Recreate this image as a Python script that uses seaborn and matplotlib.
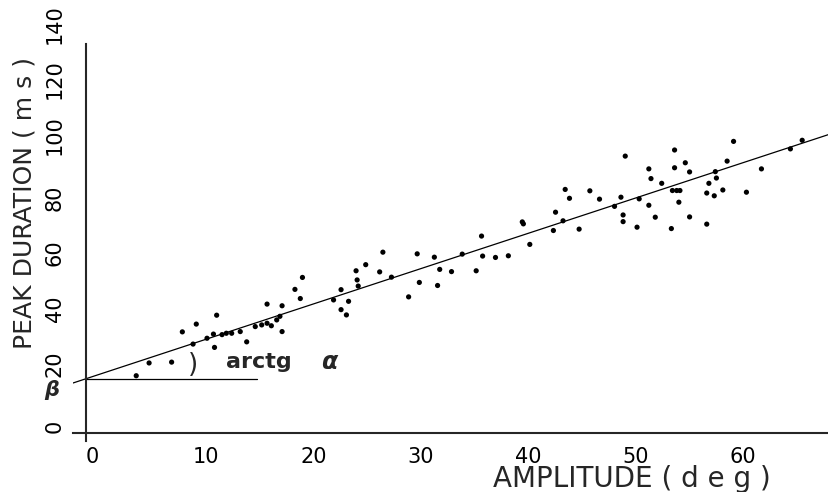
import numpy as np
import pandas as pd
import matplotlib
matplotlib.use("Agg")
import matplotlib.pyplot as plt
import seaborn as sns

# ==============================
# DATA
# ==============================
amplitude = [4.7, 5.9, 8.0, 9.0, 10.3, 12.2, 12.0, 10.0, 11.3, 11.9,
             12.7, 13.1, 13.6, 14.4, 15.0, 15.8, 16.4, 16.9, 17.3, 17.8,
             18.1, 18.3, 16.9, 18.3, 19.5, 20.2, 20.0, 23.1, 23.8, 23.8,
             24.3, 24.5, 25.2, 25.3, 25.4, 26.1, 27.4, 27.7, 28.5, 30.1,
             30.9, 31.1, 32.5, 32.8, 33.0, 34.1, 35.1, 36.4, 36.9, 37.0,
             38.2, 39.4, 40.7, 40.8, 41.4, 43.6, 43.8, 44.5, 44.7, 45.1,
             46.0, 47.0, 47.9, 49.3, 49.9, 50.1, 50.1, 50.3, 51.4, 51.6,
             52.5, 52.5, 52.7, 53.1, 53.7, 54.6, 54.9, 54.9, 54.7, 55.1,
             55.4, 55.3, 55.9, 56.3, 56.3, 57.9, 57.9, 58.1, 58.6, 58.8,
             58.7, 59.4, 59.8, 60.4, 61.6, 63.0, 65.7, 66.8]
peak_duration = [20.5, 25.1, 25.4, 36.3, 39.1, 42.3, 30.7, 31.9, 34.0, 35.5,
                 35.3, 35.8, 35.8, 36.4, 32.7, 38.2, 38.8, 39.4, 38.5, 40.6,
                 41.9, 36.4, 46.3, 45.7, 51.6, 55.9, 48.3, 47.8, 51.5, 44.3,
                 42.4, 47.3, 58.3, 55.0, 52.8, 60.5, 57.9, 65.0, 56.0, 48.9,
                 64.4, 54.1, 63.2, 53.0, 58.8, 58.0, 64.3, 58.3, 70.8, 63.6,
                 63.1, 63.7, 75.9, 75.2, 67.8, 72.8, 79.4, 76.3, 87.6, 84.4,
                 73.3, 87.1, 84.1, 81.5, 84.8, 78.4, 76.0, 99.6, 74.0, 84.2,
                 95.0, 81.9, 91.5, 77.6, 89.8, 73.5, 101.8, 95.4, 87.2, 87.2,
                 87.2, 83.0, 97.2, 93.9, 77.7, 75.1, 86.3, 89.8, 85.3, 91.7,
                 94.0, 87.4, 97.8, 104.9, 86.6, 95.0, 102.2, 105.3]

beta = 19.4      # intercept (ms)
alpha = 1.27     # slope (ms/deg)
x_ticks = [0, 10, 20, 30, 40, 50, 60]
y_ticks = [0, 20, 40, 60, 80, 100, 120, 140]

df = pd.DataFrame({"amp": amplitude, "dur": peak_duration})

# ==============================
# STYLE
# ==============================
sns.set_style("white")
plt.rcParams["font.family"] = ["DejaVu Sans"]

fig = plt.figure(figsize=(8.29, 4.92), dpi=100)
ax = fig.add_axes([0.088, 0.1037, 0.912, 0.807])

sns.scatterplot(data=df, x="amp", y="dur", ax=ax, color="black",
                s=14, edgecolor="none", legend=False)

# regression line and beta reference line
ax.axline((0, beta), slope=alpha, color="black", lw=0.9)
ax.plot([0, 16], [beta, beta], color="black", lw=0.9)

ax.set_xlim(-1.2, 69.3)
ax.set_ylim(-3, 140)

for side in ["top", "right"]:
    ax.spines[side].set_visible(False)
ax.spines["left"].set_position(("data", 0))
ax.spines["bottom"].set_position(("data", 0))
ax.spines["left"].set_linewidth(1.5)
ax.spines["bottom"].set_linewidth(1.5)
ax.spines["left"].set_bounds(-3, 140)

ax.set_xticks(x_ticks)
ax.set_yticks(y_ticks)
ax.tick_params(axis="both", direction="out", length=5, width=1.3,
               labelsize=15, colors="black")
ax.tick_params(axis="y", labelrotation=90, pad=10)
ax.tick_params(axis="x", pad=5)
for lab in ax.get_yticklabels():
    lab.set_va("bottom")
for lab in ax.get_xticklabels():
    lab.set_ha("left")

ax.set_xlabel("AMPLITUDE ( d e g )", fontsize=20)
ax.set_ylabel("PEAK DURATION ( m s )", fontsize=18)
ax.xaxis.set_label_coords(0.739, -0.06)
ax.yaxis.set_label_coords(-0.048, 0.6)

# annotations
ax.text(10.0, 24.5, ")", fontsize=19, ha="center", va="center")
ax.text(13.1, 25.5, "arctg", fontsize=16, fontweight="bold",
        ha="left", va="center")
ax.text(21.9, 25.5, "α", fontsize=17, fontweight="bold",
        fontstyle="italic", ha="left", va="center")
ax.text(-3.2, 15.5, "β", fontsize=15, fontweight="bold", fontstyle="italic",
        ha="center", va="center", clip_on=False)

plt.savefig("out.png", dpi=100)
